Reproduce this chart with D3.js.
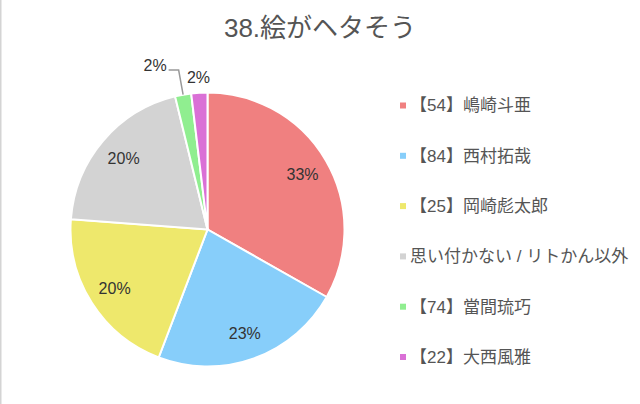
<!DOCTYPE html>
<html lang="ja">
<head>
	<meta charset="UTF-8">
	<title>38.絵がヘタそう</title>
	<style>
		html, body { margin: 0; padding: 0; background: #fff; }
		svg { display: block; }
		text { font-family: "Liberation Sans", Arial, "Noto Sans CJK JP", sans-serif; }
	</style>
</head>
<body>

	<script src="https://d3js.org/d3.v7.min.js" charset="utf-8"></script>
	<script>
		var title = "38.絵がヘタそう";
		var names = ["【54】嶋崎斗亜", "【84】西村拓哉", "【25】岡崎彪太郎", "思い付かない / リトかん以外", "【74】當間琉巧", "【22】大西風雅"];
		var shares = [33.2, 22.6, 20.4, 20.0, 1.9, 1.9];
		var colors = ["#f08080", "#87cefa", "#eee86c", "#d3d3d3", "#90ee90", "#da70d6"];

		var w = 640,
			h = 404,
			cx = 207.5,
			cy = 229.5,
			r = 137;

		var svg = d3.select("body")
					.append("svg")
					.attr("width", w)
					.attr("height", h);

		// left frame edge
		svg.append("line")
			.attr("x1", 0.75).attr("x2", 0.75)
			.attr("y1", 0).attr("y2", h)
			.attr("stroke", "#d4d4d4")
			.attr("stroke-width", 1.5);

		svg.append("text")
			.text(title)
			.attr("x", 320)
			.attr("y", 36.5)
			.attr("text-anchor", "middle")
			.attr("font-size", "26px")
			.attr("fill", "#555");

		var total = d3.sum(shares);
		var pct = function(v) { return Math.round(v / total * 100) + "%"; };

		var pie = d3.pie().sort(null).value(function(d) { return d; });
		var arcs = pie(shares);

		var arc = d3.arc().innerRadius(0).outerRadius(r);
		var labelArc = d3.arc().innerRadius(110).outerRadius(110);

		var g = svg.append("g").attr("transform", "translate(" + cx + "," + cy + ")");

		g.selectAll("path")
			.data(arcs)
			.enter()
			.append("path")
			.attr("d", arc)
			.attr("fill", function(d, i) { return colors[i]; })
			.attr("stroke", "#fff")
			.attr("stroke-width", 2);

		// big slices: label inside
		g.selectAll("text.inner")
			.data(arcs.filter(function(d) { return d.value / total >= 0.05; }))
			.enter()
			.append("text")
			.attr("class", "inner")
			.text(function(d) { return pct(d.value); })
			.attr("transform", function(d) { return "translate(" + labelArc.centroid(d) + ")"; })
			.attr("dy", "0.35em")
			.attr("text-anchor", "middle")
			.attr("font-size", "16px")
			.attr("fill", "#333");

		// small slices: label outside
		var small = arcs.filter(function(d) { return d.value / total < 0.05; });
		var polar = function(a, rr) { return [rr * Math.sin(a), -rr * Math.cos(a)]; };

		small.forEach(function(d, k) {
			var mid = (d.startAngle + d.endAngle) / 2;
			if (k === small.length - 1) {
				var p = polar(mid, 152);
				g.append("text")
					.text(pct(d.value))
					.attr("x", p[0])
					.attr("y", p[1])
					.attr("dy", "0.35em")
					.attr("text-anchor", "middle")
					.attr("font-size", "16px")
					.attr("fill", "#333");
			} else {
				var p0 = polar(mid, r),
					p1 = polar(mid, 162);
				g.append("polyline")
					.attr("points", [p0, p1, [p1[0] - 10, p1[1]]].join(" "))
					.attr("fill", "none")
					.attr("stroke", "#999")
					.attr("stroke-width", 1.5);
				g.append("text")
					.text(pct(d.value))
					.attr("x", p1[0] - 12)
					.attr("y", p1[1] + 1)
					.attr("text-anchor", "end")
					.attr("font-size", "16px")
					.attr("fill", "#333");
			}
		});

		// legend
		var ly = d3.scaleLinear().domain([0, names.length - 1]).range([105.5, 357]);

		var legend = svg.selectAll("g.legend")
			.data(names)
			.enter()
			.append("g")
			.attr("class", "legend")
			.attr("transform", function(d, i) { return "translate(400," + ly(i) + ")"; });

		legend.append("rect")
			.attr("x", 0)
			.attr("y", -3)
			.attr("width", 6)
			.attr("height", 6)
			.attr("fill", function(d, i) { return colors[i]; });

		legend.append("text")
			.text(function(d) { return d; })
			.attr("x", 10)
			.attr("dy", "0.35em")
			.attr("font-size", "17px")
			.attr("fill", "#555");
	</script>
</body>
</html>
